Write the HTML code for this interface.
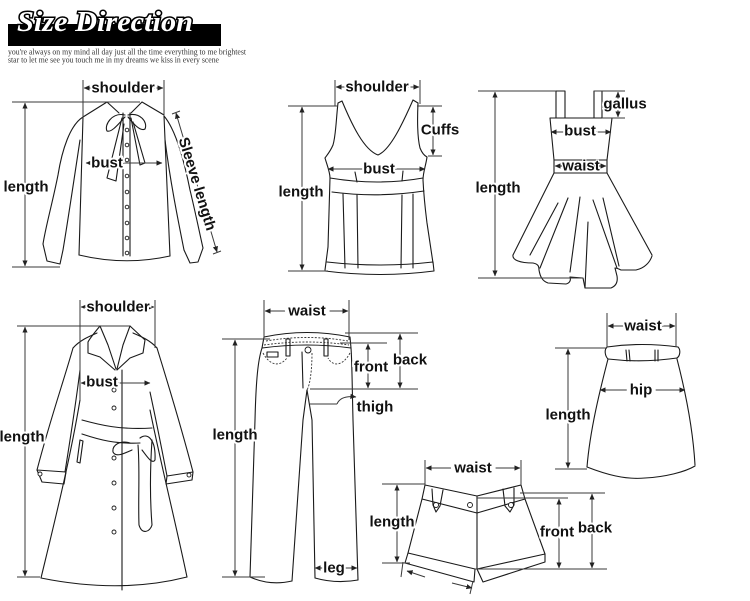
<!DOCTYPE html>
<html><head><meta charset="utf-8"><style>
html,body{margin:0;padding:0;background:#fff;}
svg{display:block;}
.g{stroke:#1a1a1a;fill:none;stroke-width:1.1;stroke-linejoin:round;stroke-linecap:round;}
.m{stroke:#3a3a3a;fill:none;stroke-width:1;}
.d{stroke:#333;fill:none;stroke-width:0.9;stroke-dasharray:2 1.5;}
.t{font-family:"Liberation Sans",Arial,sans-serif;font-weight:bold;font-size:15px;fill:#111;stroke:#fff;stroke-width:4;paint-order:stroke;text-anchor:middle;dominant-baseline:central;}
.b{fill:#fff;stroke:#1a1a1a;stroke-width:0.9;}
</style></head><body>
<svg width="750" height="601" viewBox="0 0 750 601" xmlns="http://www.w3.org/2000/svg">
<defs>
<marker id="a" viewBox="0 0 8 8" refX="7.5" refY="4" markerWidth="6" markerHeight="6" orient="auto-start-reverse" markerUnits="userSpaceOnUse"><path d="M0,0.5 L8,4 L0,7.5z" fill="#222"/></marker>
</defs>

<!-- Header -->
<rect x="8" y="24" width="213" height="22" fill="#000"/>
<text x="17" y="31" font-family="Liberation Serif, serif" font-style="italic" font-weight="bold" font-size="29" textLength="176" lengthAdjust="spacingAndGlyphs" fill="#fff" stroke="#000" stroke-width="3" paint-order="stroke">Size Direction</text>
<text x="8" y="54.5" font-family="Liberation Serif, serif" font-size="8.3" fill="#333" textLength="238" lengthAdjust="spacingAndGlyphs">you're always on my mind all day just all the time everything to me brightest</text>
<text x="8" y="62.5" font-family="Liberation Serif, serif" font-size="8.3" fill="#333" textLength="211" lengthAdjust="spacingAndGlyphs">star to let me see you touch me in my dreams we kiss in every scene</text>

<!-- ============ BLOUSE ============ -->
<g class="g">
<path d="M83,117 L79,255"/>
<path d="M79,255 Q125,266 170,256"/>
<path d="M164,116 L170,256"/>
<path d="M83,117 C70,125 62,150 58,175 C52,205 46,225 43,244"/>
<path d="M43,244 L47,261 L60,264 L63,250"/>
<path d="M80,140 C74,180 68,220 63,250"/>
<path d="M164,116 C176,130 184,160 190,190 C196,215 200,235 203,248"/>
<path d="M203,248 L198,262 L190,263 L184,250"/>
<path d="M165,140 C170,180 178,220 184,250"/>
<path d="M83,117 L107,102 L119,113"/>
<path d="M164,115 L142,102 L131,113"/>
<path d="M123,113 L123,256 M130,113 L130,256"/>
<path d="M125,115 C112,112 104,125 107,131 C112,133 120,122 125,117"/>
<path d="M128,115 C140,112 148,122 145,129 C140,132 132,122 128,117"/>
<path d="M122,118 L107,178 L116,181 L124,124"/>
<path d="M131,118 L140,165 L145,163 L133,122"/>
</g>
<g class="b">
<circle cx="127" cy="130" r="1.8"/><circle cx="127" cy="145" r="1.8"/><circle cx="127" cy="160" r="1.8"/>
<circle cx="127" cy="176" r="1.8"/><circle cx="127" cy="192" r="1.8"/><circle cx="127" cy="207" r="1.8"/>
<circle cx="127" cy="223" r="1.8"/><circle cx="127" cy="238" r="1.8"/><circle cx="127" cy="253" r="1.8"/>
</g>
<g class="m">
<path d="M83,80 L83,118 M164,80 L164,116"/>
<path d="M12,102 L140,102"/>
<path d="M12,267 L60,267"/>
<path d="M172,114 L180,111 M213,254 L221,251"/>
</g>
<path class="m" d="M84,88 L163,88" marker-start="url(#a)" marker-end="url(#a)"/>
<path class="m" d="M25,103 L25,266" marker-start="url(#a)" marker-end="url(#a)"/>
<path class="m" d="M176,113 L217,252" marker-start="url(#a)" marker-end="url(#a)"/>
<path class="m" d="M86,163 L162,163" marker-start="url(#a)" marker-end="url(#a)"/>
<text class="t" x="123" y="88">shoulder</text>
<text class="t" x="26" y="187">length</text>
<text class="t" x="107" y="163">bust</text>
<text class="t" transform="translate(197,184) rotate(73)">Sleeve length</text>

<!-- ============ TANK ============ -->
<g class="g">
<path d="M338,103 C336,120 336,135 333,145 C330,152 327,155 325,158"/>
<path d="M338,103 L342,101 C352,125 364,150 378,155 C390,150 402,125 413,100 L418,103"/>
<path d="M418,103 C417,125 418,140 420,148 C422,153 425,156 427,157"/>
<path d="M325,158 C327,165 330,172 330,178 L328,247 L325,270"/>
<path d="M427,157 C426,165 423,172 423,180 C424,200 426,215 427,223 L433,263"/>
<path d="M330,178 Q378,186 423,178"/>
<path d="M332,192 Q378,198 424,191"/>
<path d="M355,172 L357,182 M403,171 L402,181"/>
<path d="M343,194 L345,268 M357,195 L358,268 M402,195 L401,268 M413,194 L413,268"/>
<path d="M327,262 Q380,268 433,262"/>
<path d="M325,271 Q380,278 434,271 L433,262"/>
</g>
<g class="m">
<path d="M335,80 L335,106 M420,80 L420,104"/>
<path d="M288,106 L338,106"/>
<path d="M288,271 L328,271"/>
<path d="M417,106 L442,106 M428,156 L442,156"/>
</g>
<path class="m" d="M336,87 L419,87" marker-start="url(#a)" marker-end="url(#a)"/>
<path class="m" d="M302,107 L302,270" marker-start="url(#a)" marker-end="url(#a)"/>
<path class="m" d="M433,107 L433,155" marker-start="url(#a)" marker-end="url(#a)"/>
<path class="m" d="M328,169 L425,169" marker-start="url(#a)" marker-end="url(#a)"/>
<text class="t" x="377" y="87">shoulder</text>
<text class="t" x="301" y="192">length</text>
<text class="t" x="440" y="130">Cuffs</text>
<text class="t" x="379" y="169">bust</text>

<!-- ============ DRESS ============ -->
<g class="g">
<path d="M556,91 L556,118 M565,91 L565,118 M556,91 L565,91"/>
<path d="M594,91 L594,118 M602,91 L602,118"/>
<path d="M550,118 L612,118 M550,118 L554,160 M612,118 L607,160"/>
<rect x="554" y="160" width="53" height="13"/>
<path d="M554,173 L513,255 M607,173 L652,255"/>
<path d="M513,255 C512,260 520,263 533,263 C538,264 539,266 539,270 C540,276 542,281 548,283 L566,284 C570,283 571,280 570,277 L583,278 L585,288 L611,288 C616,286 618,282 617,276 L615,268 C617,268 619,269 621,270 L636,270 C645,268 650,262 652,256"/>
<path d="M558,203 L530,255 M568,198 L540,268 M580,197 L570,272 M588,222 L585,288 M593,200 L617,268 M603,198 L619,266"/>
</g>
<g class="m">
<path d="M478,91 L556,91"/>
<path d="M594,91 L625,91 M602,118 L625,118"/>
<path d="M478,278 L583,278"/>
</g>
<path class="m" d="M618,92 L618,117" marker-start="url(#a)" marker-end="url(#a)"/>
<path class="m" d="M551,132 L611,132" marker-start="url(#a)" marker-end="url(#a)"/>
<path class="m" d="M555,166 L606,166" marker-start="url(#a)" marker-end="url(#a)"/>
<path class="m" d="M495,92 L495,276" marker-start="url(#a)" marker-end="url(#a)"/>
<text class="t" x="625" y="104">gallus</text>
<text class="t" x="580" y="131">bust</text>
<text class="t" x="581" y="166" style="stroke-width:2">waist</text>
<text class="t" x="498" y="188">length</text>

<!-- ============ COAT ============ -->
<g class="g">
<path d="M100,326 L130,326"/>
<path d="M100,326 C95,332 90,338 88,342 L88,353 L100,357 L115,370"/>
<path d="M100,326 L108,345 L116,369"/>
<path d="M130,326 L145,340 L143,353 L130,358 L117,370"/>
<path d="M130,326 L123,345 L117,369"/>
<path d="M73,348 C80,340 90,336 97,333"/>
<path d="M157,348 C150,340 140,336 133,333"/>
<path d="M73,348 C64,380 50,420 37,470"/>
<path d="M37,470 L42,482 L64,484 L66,472 L37,470"/>
<path d="M80,370 C75,410 70,440 65,472"/>
<path d="M157,348 C170,390 182,430 193,472"/>
<path d="M193,472 L192,480 L166,484 L167,476 L193,472"/>
<path d="M150,392 C156,420 162,450 167,476"/>
<path d="M80,400 C70,460 55,520 41,578"/>
<path d="M150,410 C160,460 175,520 187,577"/>
<path d="M41,578 Q120,594 187,577"/>
<path d="M122,370 L122,590"/>
<path d="M82,420 C100,425 120,430 152,428"/>
<path d="M82,434 C100,440 115,444 140,443"/>
<path d="M130,443 C120,440 112,445 113,452 C116,458 125,453 132,450"/>
<path d="M138,445 C140,470 138,500 139,525 C142,535 150,532 152,525 C150,500 150,470 152,440"/>
<path d="M140,438 C148,432 156,440 155,460 C152,465 146,455 142,450"/>
<path d="M80,440 L77,462 L80,463 L83,441 Z"/>
</g>
<g class="b">
<circle cx="40" cy="474" r="2"/><circle cx="189" cy="475" r="2"/>
<circle cx="114" cy="390" r="2"/><circle cx="114" cy="408" r="2"/><circle cx="114" cy="458" r="2"/>
<circle cx="114" cy="483" r="2"/><circle cx="114" cy="508" r="2"/><circle cx="114" cy="532" r="2"/>
</g>
<g class="m">
<path d="M80,300 L80,400 M155,300 L155,348"/>
<path d="M17,326 L130,326"/>
<path d="M17,577 L40,577"/>
</g>
<path class="m" d="M81,307 L154,307" marker-start="url(#a)" marker-end="url(#a)"/>
<path class="m" d="M25,327 L25,576" marker-start="url(#a)" marker-end="url(#a)"/>
<path class="m" d="M81,383 L150,383" marker-start="url(#a)" marker-end="url(#a)"/>
<text class="t" x="118" y="307">shoulder</text>
<text class="t" x="22" y="437">length</text>
<text class="t" x="102" y="382">bust</text>

<!-- ============ JEANS ============ -->
<g class="g">
<path d="M264,337 Q307,328 350,337"/>
<path d="M262,348 Q307,342 351,348"/>
<path d="M264,337 L262,348 M350,337 L351,348"/>
<path d="M262,348 C258,360 256,380 255,420 L250,577"/>
<path d="M250,577 Q270,586 292,581"/>
<path d="M292,581 L303,420 L307,390"/>
<path d="M307,390 L312,420 L315,578"/>
<path d="M315,578 Q336,584 358,580"/>
<path d="M358,580 L353,420 C352,380 352,360 351,348"/>
<rect x="286" y="339" width="4" height="17"/>
<rect x="324" y="339" width="4" height="17"/>
<path d="M302,352 L303,388"/>
<rect x="267" y="352" width="11" height="5"/>
</g>
<circle cx="308" cy="350" r="3" class="b"/>
<g class="d">
<path d="M266,341 Q307,334 348,341"/>
<path d="M264,345 Q307,339 349,345"/>
<path d="M312,353 C312,370 310,385 307,390"/>
<path d="M263,353 C270,366 280,367 287,358"/>
<path d="M350,353 C343,366 333,367 328,358"/>
</g>
<g class="m">
<path d="M264,300 L264,338 M349,300 L349,340"/>
<path d="M222,339 L270,339"/>
<path d="M222,577 L265,577"/>
<path d="M345,333 L418,333"/>
<path d="M340,343 L387,343"/>
<path d="M310,389 L418,389"/>
<path d="M310,404 L337,404"/>
</g>
<path class="m" d="M265,311 L348,311" marker-start="url(#a)" marker-end="url(#a)"/>
<path class="m" d="M235,340 L235,576" marker-start="url(#a)" marker-end="url(#a)"/>
<path class="m" d="M368,344 L368,388" marker-start="url(#a)" marker-end="url(#a)"/>
<path class="m" d="M400,334 L400,388" marker-start="url(#a)" marker-end="url(#a)"/>
<path class="m" d="M337,404 C340,397 348,396 356,397" marker-end="url(#a)"/>
<path class="m" d="M315,568 L357,568" marker-start="url(#a)" marker-end="url(#a)"/>
<text class="t" x="307" y="311" style="stroke-width:8">waist</text>
<text class="t" x="235" y="435">length</text>
<text class="t" x="371" y="367">front</text>
<text class="t" x="410" y="360">back</text>
<text class="t" x="375" y="407">thigh</text>
<text class="t" x="334" y="568">leg</text>

<!-- ============ SKIRT ============ -->
<g class="g">
<path d="M607,347 Q642,342 678,347"/>
<path d="M608,359 Q642,363 677,358"/>
<path d="M607,347 C604,350 605,356 608,359 M678,347 C681,350 680,356 677,358"/>
<path d="M626,350 L627,361 M629,350 L630,361 M655,350 L655,361 M658,350 L658,361"/>
<path d="M608,359 C600,390 590,430 587,467"/>
<path d="M677,359 C685,390 693,430 695,465"/>
<path d="M587,467 C605,474 625,480 645,478 C665,477 685,472 695,466"/>
</g>
<g class="m">
<path d="M607,313 L607,347 M676,313 L676,347"/>
<path d="M555,348 L607,348"/>
<path d="M555,469 L587,469"/>
</g>
<path class="m" d="M608,326 L675,326" marker-start="url(#a)" marker-end="url(#a)"/>
<path class="m" d="M568,349 L568,468" marker-start="url(#a)" marker-end="url(#a)"/>
<path class="m" d="M600,390 L685,390" marker-start="url(#a)" marker-end="url(#a)"/>
<text class="t" x="643" y="326">waist</text>
<text class="t" x="568" y="415">length</text>
<text class="t" x="641" y="390" style="stroke-width:8">hip</text>

<!-- ============ SHORTS ============ -->
<g class="g">
<path d="M425,485 L477,496 L521,485"/>
<path d="M422,499 L477,513 L525,499"/>
<path d="M425,485 L422,499 L408,553"/>
<path d="M521,485 L525,499 L545,554"/>
<path d="M408,553 L475,569 M405,563 L474,582 M408,553 L405,563 M475,569 L474,582"/>
<path d="M477,569 L545,554 L545,562 L483,582 L477,569"/>
<path d="M477,496 L477,569"/>
<path d="M432,489 L433,505 L436,512 L440,506 L443,490"/>
<path d="M503,489 L505,506 L510,512 L514,505 L514,488"/>
</g>
<g class="b">
<circle cx="436" cy="505" r="2.5"/><circle cx="470" cy="505" r="2.5"/><circle cx="511" cy="505" r="2.5"/>
</g>
<g class="m">
<path d="M425,460 L425,485 M521,460 L521,485"/>
<path d="M382,484 L425,484"/>
<path d="M382,563 L410,563"/>
<path d="M520,493 L605,493"/>
<path d="M477,498 L568,498"/>
<path d="M475,569 L607,569"/>
<path d="M403,562 L401,577 M473,581 L470,594"/>
</g>
<path class="m" d="M426,468 L520,468" marker-start="url(#a)" marker-end="url(#a)"/>
<path class="m" d="M397,485 L397,562" marker-start="url(#a)" marker-end="url(#a)"/>
<path class="m" d="M559,499 L559,568" marker-start="url(#a)" marker-end="url(#a)"/>
<path class="m" d="M592,494 L592,568" marker-start="url(#a)" marker-end="url(#a)"/>
<path class="m" d="M425,577 L407,571" marker-end="url(#a)"/>
<path class="m" d="M452,583 L472,588" marker-end="url(#a)"/>
<text class="t" x="473" y="468" style="stroke-width:8">waist</text>
<text class="t" x="392" y="522">length</text>
<text class="t" x="557" y="532">front</text>
<text class="t" x="595" y="528">back</text>
</svg>
</body></html>
